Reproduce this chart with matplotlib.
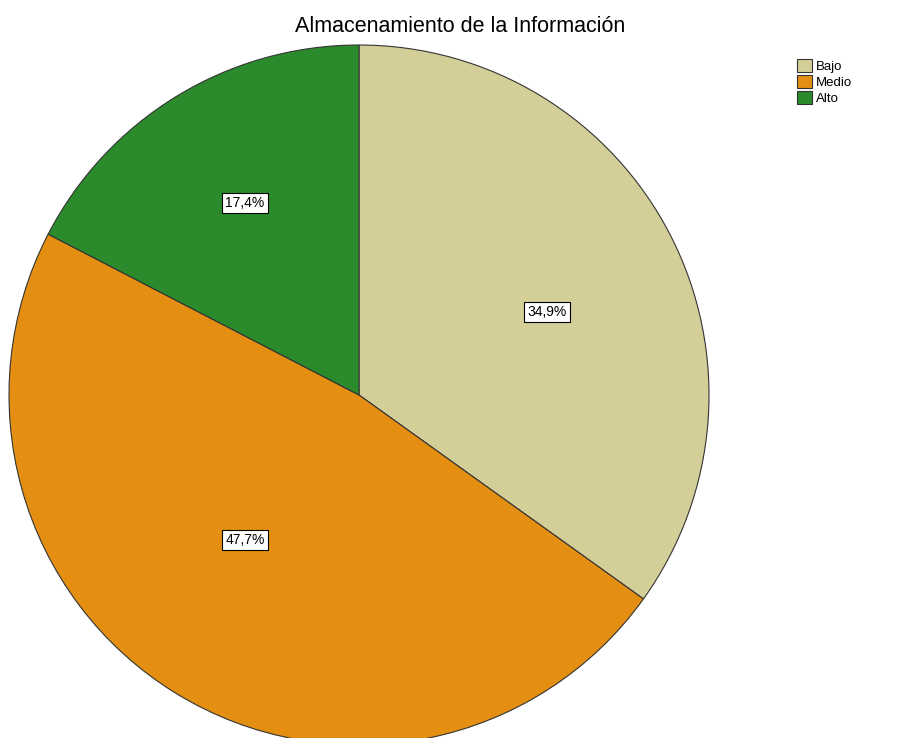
import matplotlib.pyplot as plt
from matplotlib.patches import Patch

plt.rcParams['font.family'] = ['Liberation Sans', 'DejaVu Sans']

categorias = ["Bajo", "Medio", "Alto"]
porcentajes = [34.9, 47.7, 17.4]
colores = ["#d4cf98", "#e48f12", "#2b8a2b"]
# posiciones de las etiquetas de porcentaje (x, y en píxeles desde abajo)
pos_etiquetas = [(547, 426), (245, 198), (245, 535)]

fig = plt.figure(figsize=(9.12, 7.38), dpi=100)
ax = fig.add_axes([0, 0, 1, 1])

wedges, texts, autotexts = ax.pie(
    porcentajes, colors=colores, startangle=90, counterclock=False,
    center=(359, 343), radius=350, frame=True,
    autopct=lambda p: f"{p:.1f}%".replace(".", ","), pctdistance=0.6,
    wedgeprops=dict(edgecolor="#333333", linewidth=0.8),
    textprops=dict(fontsize=10, color="black"),
)
for t, pos in zip(autotexts, pos_etiquetas):
    t.set_position(pos)
    t.set_bbox(dict(boxstyle="square,pad=0.25", facecolor="white",
                    edgecolor="black", linewidth=0.8))

ax.set_xlim(0, 912)
ax.set_ylim(0, 738)
ax.set_aspect("equal")
ax.axis("off")

fig.text(460 / 912, 1 - 27 / 738, "Almacenamiento de la Información",
         ha="center", va="center", fontsize=15.5)

handles = [Patch(facecolor=c, edgecolor="#333333", linewidth=0.8) for c in colores]
fig.legend(handles, categorias, loc="upper left",
           bbox_to_anchor=(792 / 912, 1 - 54 / 738), frameon=False,
           fontsize=9.5, handlelength=1.1, handleheight=1.1,
           handletextpad=0.3, labelspacing=0.15, borderaxespad=0)

fig.savefig("out.png", dpi=100, facecolor="white")
